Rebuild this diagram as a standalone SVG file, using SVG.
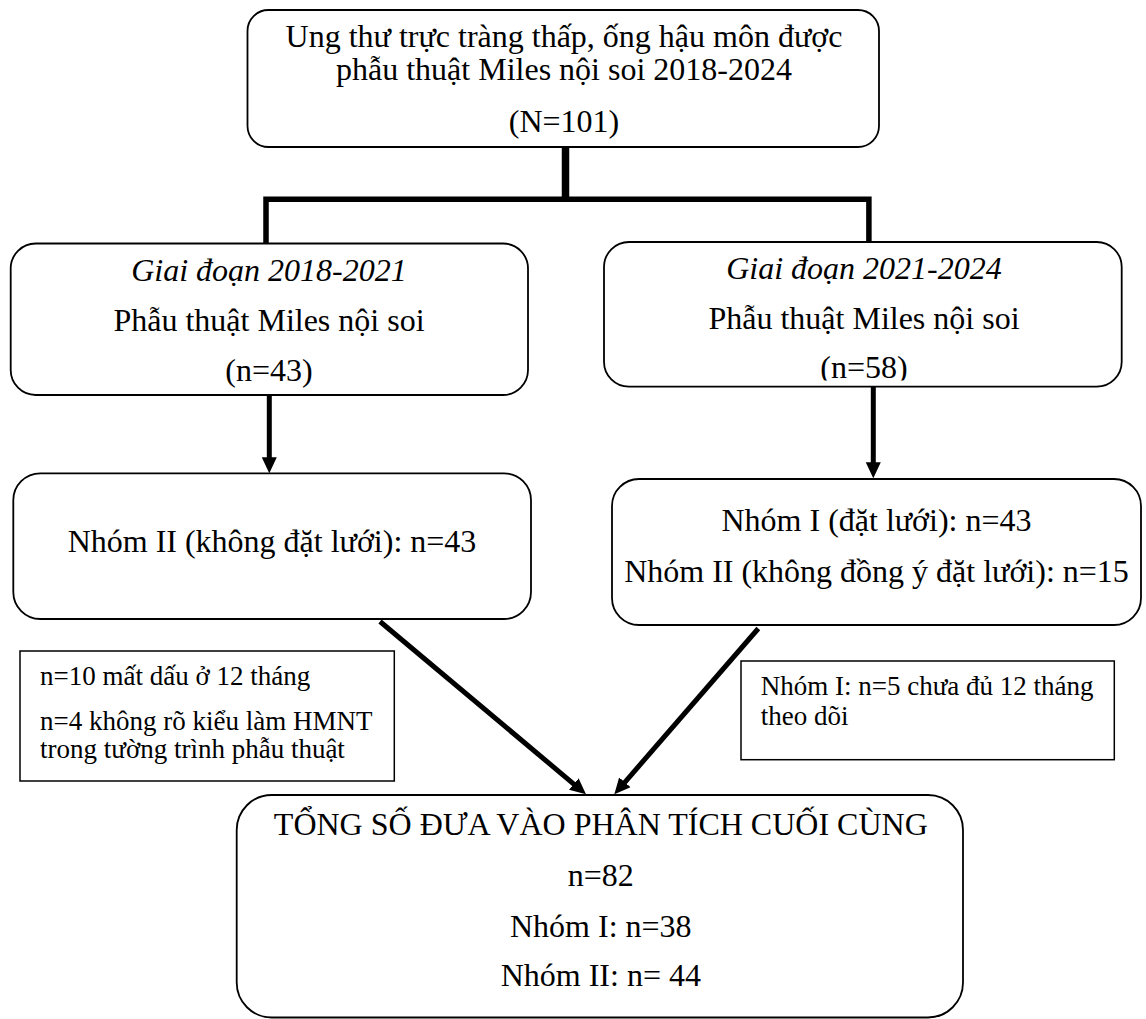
<svg xmlns="http://www.w3.org/2000/svg" width="1146" height="1019" viewBox="0 0 1146 1019">
  <style>
    .box { fill: #ffffff; stroke: #000000; stroke-width: 1.8; }
    .note { fill: #ffffff; stroke: #000000; stroke-width: 1.5; }
    .t { font-family: "Liberation Serif", "Times New Roman", serif; font-size: 32px; fill: #000000; text-anchor: middle; }
    .it { font-style: italic; }
    .n { font-family: "Liberation Serif", "Times New Roman", serif; font-size: 27px; fill: #000000; text-anchor: start; }
    .thick { fill: none; stroke: #000000; stroke-linejoin: miter; stroke-linecap: butt; }
    .arr { fill: none; stroke: #000000; stroke-width: 5; marker-end: url(#head); }
  </style>
  <defs>
    <marker id="head" markerUnits="userSpaceOnUse" markerWidth="16" markerHeight="15" refX="4" refY="7.5" orient="auto">
      <path d="M0,0 L16,7.5 L0,15 z" fill="#000000"/>
    </marker>
    <clipPath id="clipR">
      <rect x="604" y="242" width="518" height="138.5"/>
    </clipPath>
  </defs>
  <rect width="1146" height="1019" fill="#ffffff"/>

  <g id="connectors">
    <path class="thick" d="M565.5,147 V201.7" stroke-width="7.5"/>
    <path class="thick" d="M266,243.5 V199.2 H868.9 V242" stroke-width="5.5"/>
    <line class="arr" x1="269.3" y1="395" x2="269.3" y2="461.3"/>
    <line class="arr" x1="873.3" y1="386.7" x2="873.3" y2="466.3"/>
    <line class="arr" x1="380" y1="621.5" x2="576.8" y2="786.6"/>
    <line class="arr" x1="758.3" y1="628.5" x2="622.2" y2="785.3"/>
  </g>

  <g id="node-top">
    <rect class="box" x="247.5" y="10" width="631.5" height="137" rx="21" ry="21"/>
    <text class="t" x="564" y="46.5">Ung thư trực tràng thấp, ống hậu môn được</text>
    <text class="t" x="564" y="80">phẫu thuật Miles nội soi 2018-2024</text>
    <text class="t" x="564" y="131.7">(N=101)</text>
  </g>

  <g id="node-period1">
    <rect class="box" x="10.7" y="243.5" width="517.3" height="151.5" rx="25" ry="25"/>
    <text class="t it" x="269" y="280.7">Giai đoạn 2018-2021</text>
    <text class="t" x="269" y="331">Phẫu thuật Miles nội soi</text>
    <text class="t" x="269" y="381">(n=43)</text>
  </g>

  <g id="node-period2">
    <rect class="box" x="604" y="242" width="517.7" height="144.7" rx="25" ry="25"/>
    <text class="t it" x="864" y="279">Giai đoạn 2021-2024</text>
    <text class="t" x="864" y="329">Phẫu thuật Miles nội soi</text>
    <text class="t" x="864" y="378" clip-path="url(#clipR)">(n=58)</text>
  </g>

  <g id="node-group2-left">
    <rect class="box" x="13.3" y="473.3" width="517.7" height="145.7" rx="27" ry="27"/>
    <text class="t" x="272" y="551.7">Nhóm II (không đặt lưới): n=43</text>
  </g>

  <g id="node-groups-right">
    <rect class="box" x="612" y="479" width="529" height="146" rx="27" ry="27"/>
    <text class="t" x="876.5" y="530.7">Nhóm I (đặt lưới): n=43</text>
    <text class="t" x="876.5" y="581.7">Nhóm II (không đồng ý đặt lưới): n=15</text>
  </g>

  <g id="note-left">
    <rect class="note" x="20" y="651" width="374.3" height="130"/>
    <text class="n" x="40" y="685">n=10 mất dấu ở 12 tháng</text>
    <text class="n" x="40" y="730">n=4 không rõ kiểu làm HMNT</text>
    <text class="n" x="40" y="758.3">trong tường trình phẫu thuật</text>
  </g>

  <g id="note-right">
    <rect class="note" x="741" y="661" width="373.3" height="98.7"/>
    <text class="n" x="760.7" y="695">Nhóm I: n=5 chưa đủ 12 tháng</text>
    <text class="n" x="760.7" y="725">theo dõi</text>
  </g>

  <g id="node-final">
    <rect class="box" x="236.7" y="795" width="726.3" height="222.5" rx="35" ry="35"/>
    <text class="t" x="600.8" y="835">TỔNG SỐ ĐƯA VÀO PHÂN TÍCH CUỐI CÙNG</text>
    <text class="t" x="600.8" y="886">n=82</text>
    <text class="t" x="600.8" y="936.7">Nhóm I: n=38</text>
    <text class="t" x="600.8" y="986">Nhóm II: n= 44</text>
  </g>
</svg>
